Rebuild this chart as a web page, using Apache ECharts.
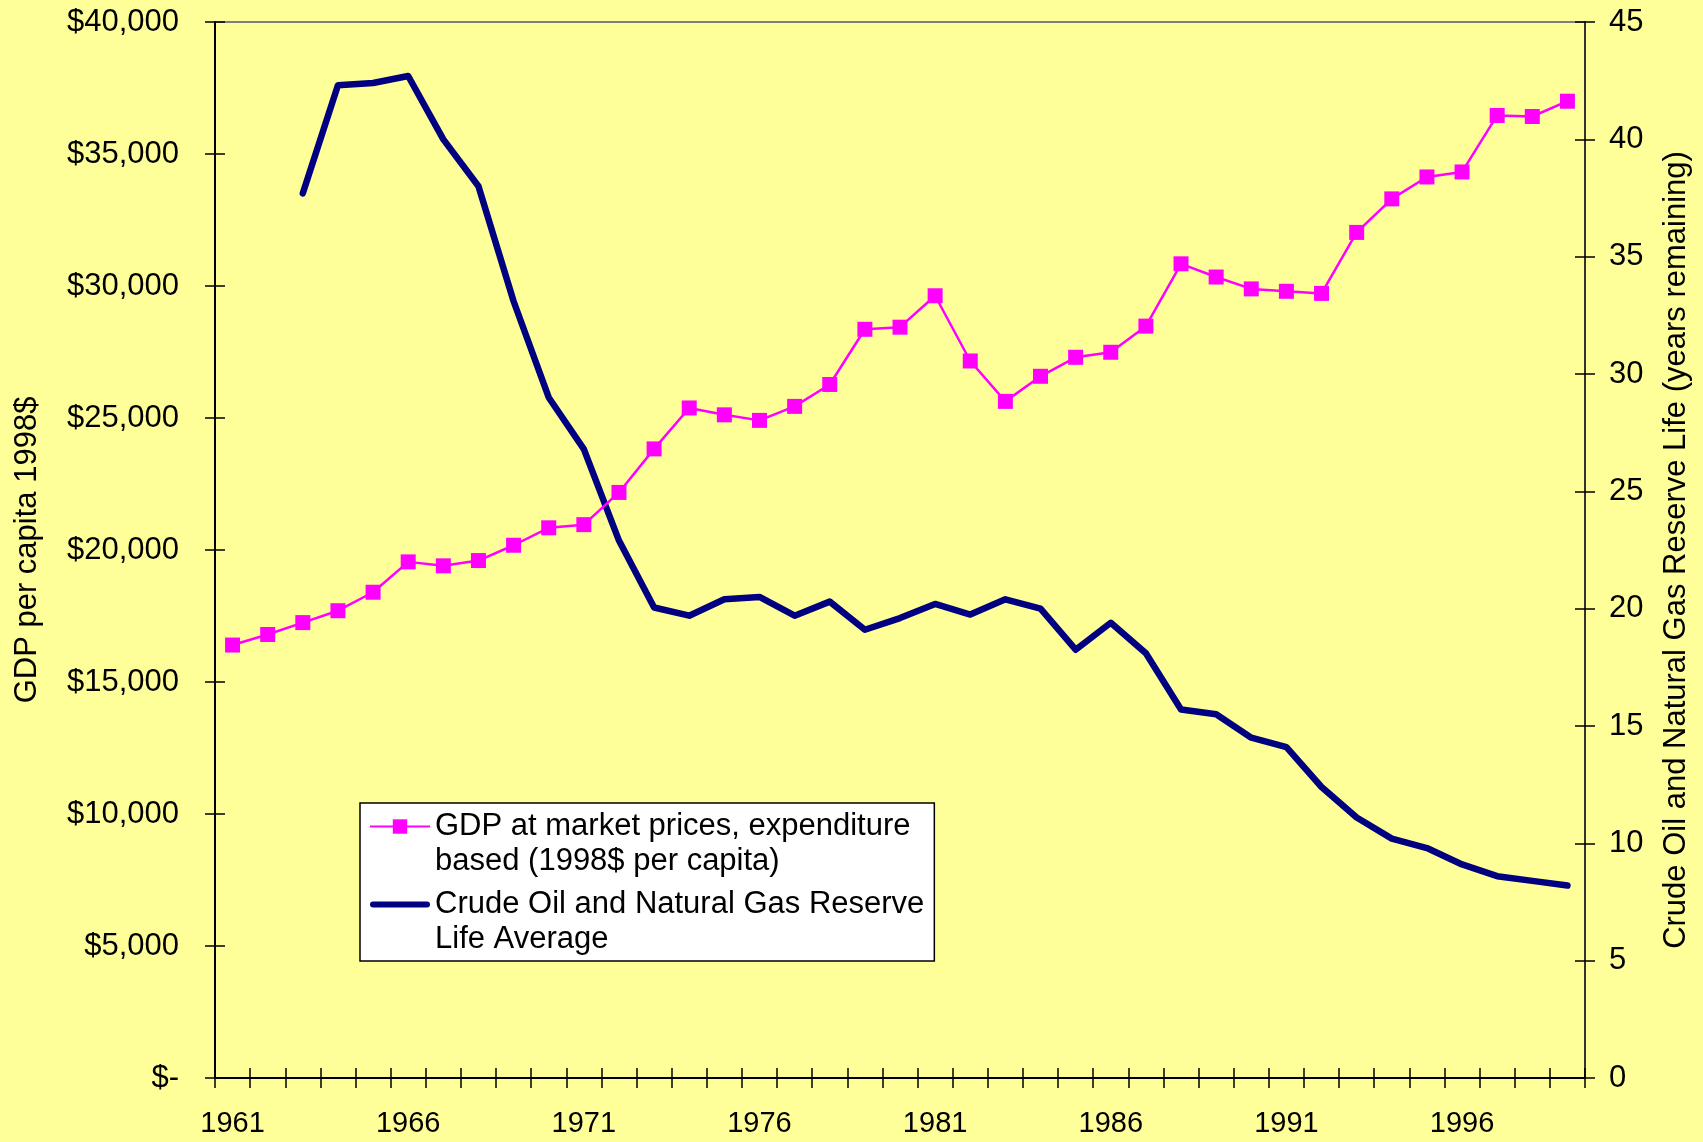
<!DOCTYPE html>
<html>
<head>
<meta charset="utf-8">
<script src="https://cdn.jsdelivr.net/npm/echarts@6/dist/echarts.min.js"></script>
<style>
  html, body { margin: 0; padding: 0; background: #FFFF99; }
  #container { width: 1703px; height: 1142px; }
</style>
</head>
<body>
<div id="container"></div>
<script>
var years = ['1961','1962','1963','1964','1965','1966','1967','1968','1969','1970',
             '1971','1972','1973','1974','1975','1976','1977','1978','1979','1980',
             '1981','1982','1983','1984','1985','1986','1987','1988','1989','1990',
             '1991','1992','1993','1994','1995','1996','1997','1998','1999'];

var gdpPerCapita = [16400, 16800, 17250, 17700, 18400, 19550, 19400, 19600, 20180, 20840,
                    20960, 22180, 23830, 25380, 25120, 24910, 25440, 26270, 28360, 28440,
                    29630, 27160, 25630, 26580, 27300, 27490, 28480, 30840, 30340, 29890,
                    29800, 29720, 32030, 33300, 34130, 34320, 36460, 36420, 37000];

var reserveLife = [null, null, 37.7, 42.3, 42.4, 42.7, 40.0, 38.0, 33.1, 29.0,
                   26.8, 22.9, 20.05, 19.7, 20.4, 20.5, 19.7, 20.3, 19.1, 19.6,
                   20.2, 19.75, 20.4, 20.0, 18.25, 19.4, 18.1, 15.7, 15.5, 14.5,
                   14.1, 12.4, 11.1, 10.2, 9.8, 9.1, 8.6, 8.4, 8.2];

var gdpName = 'GDP at market prices, expenditure\nbased (1998$ per capita)';
var reserveName = 'Crude Oil and Natural Gas Reserve\nLife Average';

var font = 'Liberation Sans, Arial, sans-serif';

var dom = document.getElementById('container');
var myChart = echarts.init(dom);

var option = {
    animation: false,
    backgroundColor: '#FFFF99',
    textStyle: { fontFamily: font, color: '#000' },
    grid: {
        left: 215, right: 118, top: 22, bottom: 64,
        outerBoundsMode: 'none',
        containLabel: false,
        show: true,
        backgroundColor: '#FFFF99',
        borderColor: '#808080',
        borderWidth: 2
    },
    legend: {
        orient: 'vertical',
        left: 360,
        top: 803,
        data: [
            { name: gdpName },
            { name: reserveName, icon: 'path://M3,0L57,0A3,3,0,0,1,57,6L3,6A3,3,0,0,1,3,0Z' }
        ],
        // blank first line keeps the icon level with the first text line
        formatter: function (name) { return '\n' + name; },
        itemWidth: 60,
        itemHeight: 18,
        itemGap: -27,
        padding: [-29, 10, 4, 9],
        backgroundColor: '#fff',
        borderColor: '#000',
        borderWidth: 1.5,
        borderRadius: 0,
        textStyle: {
            fontFamily: font,
            fontSize: 31,
            lineHeight: 35,
            color: '#000'
        }
    },
    xAxis: [{
        type: 'category',
        data: years,
        position: 'bottom',
        boundaryGap: true,
        axisLine: { lineStyle: { color: '#000', width: 2 } },
        axisTick: { show: true, interval: 0, length: 10, lineStyle: { color: '#000', width: 1.5 } },
        axisLabel: { interval: 4, margin: 31, fontSize: 29, color: '#000', fontFamily: font },
        splitLine: { show: false }
    }, {
        type: 'category',
        data: years,
        position: 'bottom',
        boundaryGap: true,
        axisLine: { show: false },
        axisTick: { show: true, inside: true, interval: 0, length: 10, lineStyle: { color: '#000', width: 1.5 } },
        axisLabel: { show: false },
        splitLine: { show: false }
    }],
    yAxis: [{
        type: 'value',
        position: 'left',
        min: 0, max: 40000, interval: 5000,
        name: 'GDP per capita 1998$',
        nameLocation: 'middle',
        nameRotate: 90,
        nameGap: 172,
        nameTextStyle: { fontSize: 31, color: '#000', fontFamily: font },
        axisLine: { show: true, lineStyle: { color: '#000', width: 2 } },
        axisTick: { show: true, length: 10, lineStyle: { color: '#000', width: 1.5 } },
        axisLabel: {
            margin: 36, fontSize: 31, color: '#000', fontFamily: font,
            formatter: function (v) { return v === 0 ? '$-' : '$' + v.toLocaleString('en-US'); }
        },
        splitLine: { show: false }
    }, {
        type: 'value',
        position: 'right',
        min: 0, max: 45, interval: 5,
        name: 'Crude Oil and Natural Gas Reserve Life (years remaining)',
        nameLocation: 'middle',
        nameRotate: 90,
        nameGap: 76,
        nameTextStyle: { fontSize: 31, color: '#000', fontFamily: font },
        axisLine: { show: true, lineStyle: { color: '#333', width: 2 } },
        axisTick: { show: true, length: 10, lineStyle: { color: '#000', width: 1.5 } },
        axisLabel: { margin: 24, fontSize: 31, color: '#000', fontFamily: font },
        splitLine: { show: false }
    }, {
        type: 'value',
        position: 'left',
        min: 0, max: 40000, interval: 5000,
        axisLine: { show: false },
        axisTick: { show: true, inside: true, length: 10, lineStyle: { color: '#000', width: 1.5 } },
        axisLabel: { show: false },
        splitLine: { show: false }
    }, {
        type: 'value',
        position: 'right',
        min: 0, max: 45, interval: 5,
        axisLine: { show: false },
        axisTick: { show: true, inside: true, length: 10, lineStyle: { color: '#000', width: 1.5 } },
        axisLabel: { show: false },
        splitLine: { show: false }
    }],
    series: [{
        name: gdpName,
        type: 'line',
        xAxisIndex: 0,
        yAxisIndex: 0,
        data: gdpPerCapita,
        symbol: 'rect',
        symbolSize: 15,
        z: 3,
        itemStyle: { color: '#FF00FF' },
        lineStyle: { color: '#FF00FF', width: 2.5 }
    }, {
        name: reserveName,
        type: 'line',
        xAxisIndex: 0,
        yAxisIndex: 1,
        data: reserveLife,
        symbol: 'none',
        z: 2,
        itemStyle: { color: '#000080' },
        lineStyle: { color: '#000080', width: 6.5, cap: 'round', join: 'round' }
    }]
};

if (option && typeof option === 'object') {
    myChart.setOption(option, true);
}
</script>
</body>
</html>
